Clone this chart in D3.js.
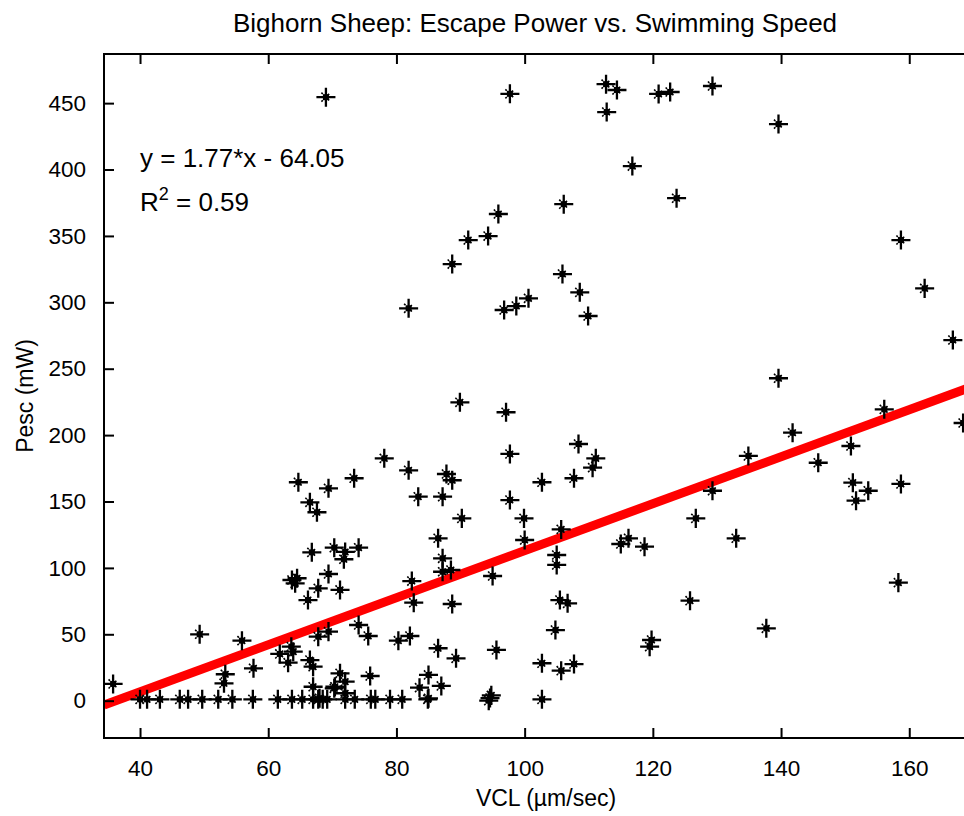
<!DOCTYPE html>
<html>
<head>
<meta charset="utf-8">
<script src="https://cdn.jsdelivr.net/npm/d3@7"></script>
<style>
  body { margin: 0; background: #fff; }
  text { font-family: "Liberation Sans", Arial, sans-serif; fill: #000; }
</style>
</head>
<body>
<div id="chart"></div>
<script>
// VCL (um/sec) and Pesc (mW)
const vcl = [
  69.0, 97.7, 112.7, 114.4, 112.8, 120.9, 122.7, 129.3, 139.6, 116.8, 123.7, 158.7, 162.4, 166.8,
  106.1, 95.9, 91.2, 94.3, 88.7, 81.9, 96.8, 98.7, 100.6, 105.9, 108.6, 109.9,
  89.9, 97.1, 97.7, 108.4, 111.1, 110.6, 107.7, 102.7, 81.9, 87.8, 88.7, 83.4, 87.2, 97.7, 90.2, 99.9,
  64.7, 66.5, 67.6, 69.4, 73.4, 78.1,
  66.8, 70.3, 72.0, 71.8, 74.1, 63.7, 64.5, 64.2, 69.4, 67.8, 71.2, 66.2,
  49.3, 55.9, 57.7, 53.3, 53.1, 35.8, 67.8, 69.4, 61.8, 63.9, 63.6, 63.1, 66.5, 67.0, 71.2, 72.0,
  67.0, 68.0, 70.4, 70.3, 72.0, 75.9, 85.0, 83.6, 87.0, 85.0, 102.7, 105.7, 107.7, 95.6, 89.3, 86.5,
  80.3, 82.1, 75.6, 74.1, 104.8, 105.5, 106.7, 88.7, 82.7, 82.4, 95.0, 87.2, 87.2, 88.5, 86.5, 100.0,
  105.0, 105.0, 105.7,
  139.6, 168.4, 156.1, 141.8, 150.9, 134.9, 145.8, 151.2, 153.6, 151.7, 158.7, 129.3, 126.7, 133.0,
  115.0, 116.2, 118.7, 158.3, 125.8, 137.7, 119.8, 119.5,
  40.0, 41.1, 43.1, 46.2, 47.5, 49.7, 52.2, 54.4, 57.6, 61.5, 63.7, 65.3, 67.0, 67.8, 68.5, 69.2,
  72.0, 73.5, 76.0, 76.7, 79.0, 80.9, 84.9, 94.4, 94.6, 94.8, 102.7
];
const pesc = [
  454.5, 457, 464.3, 459.9, 443.3, 456.9, 458.4, 462.9, 434.2, 402.6, 378.4, 346.9, 310.5, 271.6,
  373.9, 366.5, 346.9, 349.9, 328.8, 295.5, 294.2, 297.2, 303, 321.3, 307.5, 289.7,
  224.7, 217.2, 185.8, 193.3, 182.5, 175.5, 167.5, 164.5, 173.5, 170.7, 166, 153.6, 153.6, 151.1, 137.3, 137.3,
  164.5, 149.4, 141.9, 159.9, 167.5, 182.5,
  111.7, 115.2, 112, 106.5, 115.2, 90.9, 92.2, 88.4, 95.4, 84.6, 83.4, 75.8,
  50, 45.2, 24.4, 19.9, 13.1, 12.6, 48.2, 52, 35.2, 36.9, 40.7, 28.6, 30.6, 25.6, 20.6, 14.3,
  10.5, 1.8, 10.5, 9.3, 5.6, 18.6, 19.4, 9.8, 11.1, 1.8, 28.2, 22.6, 27.6, 38.2, 31.9, 39.5,
  45.2, 48.7, 48.7, 57, 53.2, 75.8, 73.3, 72.8, 73.8, 90.1, 93.9, 107.2, 97.1, 98.4, 122.3, 121,
  109.7, 102.2, 129,
  242.8, 209.1, 219.4, 201.8, 191.8, 184.3, 179.2, 164.2, 158.1, 150.6, 163.2, 158.1, 137.3, 122.3,
  118, 122.3, 116, 88.9, 75.3, 54.5, 45.7, 40.7,
  1, 1, 1, 1, 1, 1, 1, 1, 1, 1, 1, 1, 1, 1, 1, 1,
  1, 1, 1, 1, 1, 1, 1, 0, 2, 4, 1
];

const xTicks = [40, 60, 80, 100, 120, 140, 160];
const yTicks = [0, 50, 100, 150, 200, 250, 300, 350, 400, 450];

// linear fit shown on the chart
const slope = 1.77, intercept = -64.05, rSquared = 0.59;

const data = vcl.map((v, i) => ({ x: v, y: pesc[i] }));

const width = 964,
      height = 816,
      margin = ({ top: 54, right: -10, bottom: 78, left: 104 });

let svg = d3.select("#chart")
    .append("svg")
    .attr("width", width)
    .attr("height", height);

let x = d3.scaleLinear()
    .domain([34.38, 170.1])
    .range([margin.left, width - margin.right]);

let y = d3.scaleLinear()
    .domain([-28.1, 487])
    .range([height - margin.bottom, margin.top]);

svg.append("clipPath")
    .attr("id", "plot-clip")
    .append("rect")
    .attr("x", margin.left)
    .attr("y", margin.top)
    .attr("width", width - margin.right - margin.left)
    .attr("height", height - margin.bottom - margin.top);

let plot = svg.append("g").attr("clip-path", "url(#plot-clip)");

// red regression line
let xs = x.domain();
plot.append("line")
    .attr("x1", x(xs[0]))
    .attr("y1", y(slope * xs[0] + intercept))
    .attr("x2", x(xs[1]))
    .attr("y2", y(slope * xs[1] + intercept))
    .attr("stroke", "#ff0000")
    .attr("stroke-width", 9);

// '*' markers = plus + times + a small dot
let plus = d3.symbol(d3.symbolPlus, 120)(),
    times = d3.symbol(d3.symbolTimes, 55)();

let mark = plot.selectAll(".mark")
    .data(data)
    .join("g")
    .attr("class", "mark")
    .attr("transform", d => `translate(${x(d.x)},${y(d.y)})`);

mark.append("path")
    .attr("d", times)
    .attr("fill", "none")
    .attr("stroke", "#000")
    .attr("stroke-width", 1.6)
    .attr("stroke-dasharray", "2 2.5");

mark.append("path")
    .attr("d", plus)
    .attr("fill", "none")
    .attr("stroke", "#000")
    .attr("stroke-width", 2.3);

mark.append("rect")
    .attr("x", -3).attr("y", -3)
    .attr("width", 6).attr("height", 6)
    .attr("fill", "#000");

// axes, ticks pointing inward like MATLAB
svg.append("g")
    .attr("transform", `translate(0,${height - margin.bottom})`)
    .call(d3.axisBottom(x).tickValues(xTicks).tickSizeInner(-10).tickSizeOuter(0).tickPadding(22))
    .call(g => g.select(".domain").remove());

svg.append("g")
    .attr("transform", `translate(${margin.left},0)`)
    .call(d3.axisLeft(y).tickValues(yTicks).tickSizeInner(-10).tickSizeOuter(0).tickPadding(18))
    .call(g => g.select(".domain").remove());

svg.append("g")
    .attr("transform", `translate(0,${margin.top})`)
    .call(d3.axisTop(x).tickValues(xTicks).tickSizeInner(-10).tickSizeOuter(0).tickFormat(""))
    .call(g => g.select(".domain").remove());

svg.append("g")
    .attr("transform", `translate(${width - margin.right},0)`)
    .call(d3.axisRight(y).tickValues(yTicks).tickSizeInner(-10).tickSizeOuter(0).tickFormat(""))
    .call(g => g.select(".domain").remove());

svg.selectAll(".tick line").attr("stroke", "#000").attr("stroke-width", 2);
svg.selectAll(".tick text")
    .style("font-size", "22.5px")
    .style("font-family", "'Liberation Sans', Arial, sans-serif");

svg.append("rect")
    .attr("x", margin.left)
    .attr("y", margin.top)
    .attr("width", width - margin.right - margin.left)
    .attr("height", height - margin.bottom - margin.top)
    .attr("fill", "none")
    .attr("stroke", "#000")
    .attr("stroke-width", 2);

// title and labels
svg.append("text")
    .attr("x", 535)
    .attr("y", 32)
    .attr("text-anchor", "middle")
    .style("font-size", "26px")
    .text("Bighorn Sheep: Escape Power vs. Swimming Speed");

svg.append("text")
    .attr("x", 546)
    .attr("y", 806)
    .attr("text-anchor", "middle")
    .style("font-size", "23px")
    .text("VCL (µm/sec)");

svg.append("text")
    .attr("transform", `translate(33,${(margin.top + height - margin.bottom) / 2}) rotate(-90)`)
    .attr("text-anchor", "middle")
    .style("font-size", "23px")
    .text("Pesc (mW)");

// fit annotation
svg.append("text")
    .attr("x", 140)
    .attr("y", 167)
    .style("font-size", "26px")
    .text(`y = ${slope}*x - ${Math.abs(intercept).toFixed(2)}`);

let r2 = svg.append("text")
    .attr("x", 140)
    .attr("y", 211)
    .style("font-size", "26px");
r2.append("tspan").text("R");
r2.append("tspan").attr("dy", -11).style("font-size", "18px").text("2");
r2.append("tspan").attr("dy", 11).text(` = ${rSquared}`);
</script>
</body>
</html>
